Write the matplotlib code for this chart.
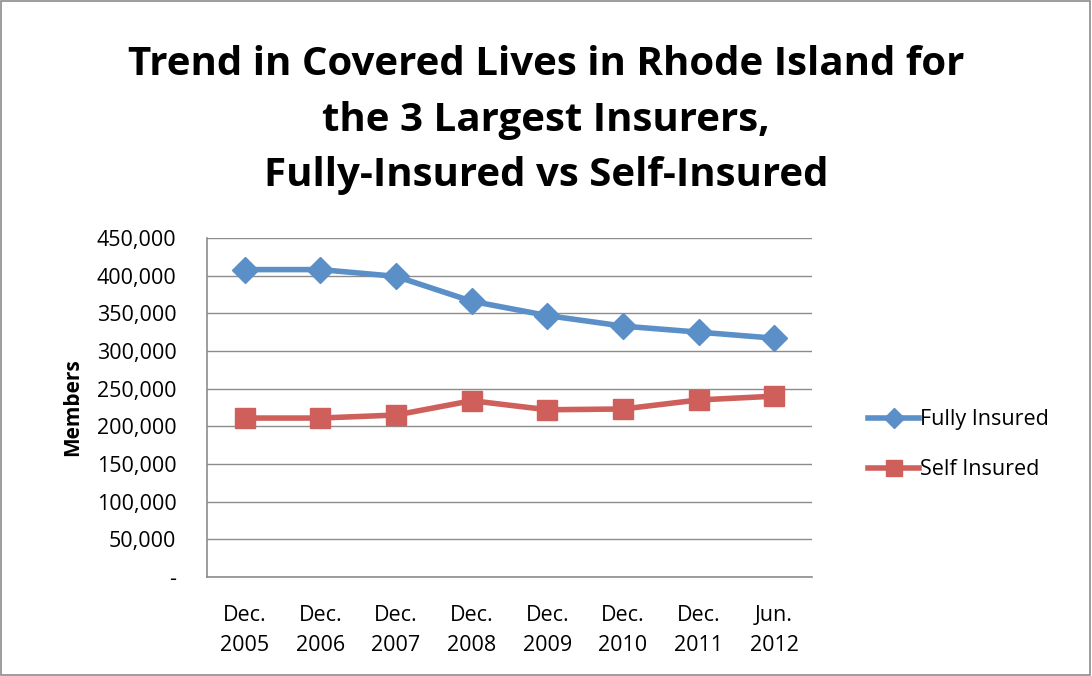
import matplotlib.pyplot as plt
from matplotlib.ticker import FuncFormatter
from matplotlib.patches import Rectangle

periods = ['Dec.\n2005', 'Dec.\n2006', 'Dec.\n2007', 'Dec.\n2008',
           'Dec.\n2009', 'Dec.\n2010', 'Dec.\n2011', 'Jun.\n2012']
fully_insured = [408000, 408000, 399000, 366000, 347000, 333000, 325000, 317000]
self_insured = [211000, 211000, 215000, 234000, 222000, 223000, 235000, 240000]

plt.rcParams['font.family'] = ['Open Sans', 'DejaVu Sans']

fig = plt.figure(figsize=(10.92, 6.76), dpi=100)
ax = fig.add_axes([0.1896, 0.1464, 0.554, 0.5016])

x = list(range(len(periods)))
ax.plot(x, fully_insured, color='#5b8fc7', lw=4, marker='D', ms=13,
        label='Fully Insured', zorder=3)
ax.plot(x, self_insured, color='#cf5f5a', lw=4, marker='s', ms=15,
        label='Self Insured', zorder=3)

ax.set_xlim(-0.5, len(periods) - 0.5)
ax.set_ylim(0, 450000)
ax.set_yticks(range(0, 450001, 50000))
ax.yaxis.set_major_formatter(FuncFormatter(lambda v, p: '-' if v == 0 else f'{int(v):,}'))
ax.set_xticks(x)
ax.set_xticklabels(periods, fontsize=15.5, linespacing=1.55)
ax.tick_params(axis='y', labelsize=15.5, length=0, pad=22)
ax.tick_params(axis='x', length=0, pad=20)
for lbl in ax.get_yticklabels():
    lbl.set_horizontalalignment('right')
ax.grid(axis='y', color='#8c8c8c', lw=1)
ax.set_axisbelow(True)
for s in ['top', 'right']:
    ax.spines[s].set_visible(False)
for s in ['left', 'bottom']:
    ax.spines[s].set_color('#8c8c8c')
    ax.spines[s].set_linewidth(1.2)

ax.set_ylabel('Members', fontsize=15, fontweight='bold', labelpad=10)

fig.text(0.5, 0.822, 'Trend in Covered Lives in Rhode Island for\nthe 3 Largest Insurers,\nFully-Insured vs Self-Insured',
         ha='center', va='center', fontsize=29, fontweight='bold', linespacing=1.55)

leg = ax.legend(loc='center left', bbox_to_anchor=(1.06, 0.39), frameon=False,
                fontsize=15.5, handlelength=2.4, handletextpad=0.05, labelspacing=1.35,
                markerscale=0.8)

fig.patches.append(Rectangle((0.001, 0.001), 0.997, 0.997, transform=fig.transFigure,
                             fill=False, edgecolor='#8c8c8c', lw=1.2))

fig.savefig('out.png', dpi=100)
